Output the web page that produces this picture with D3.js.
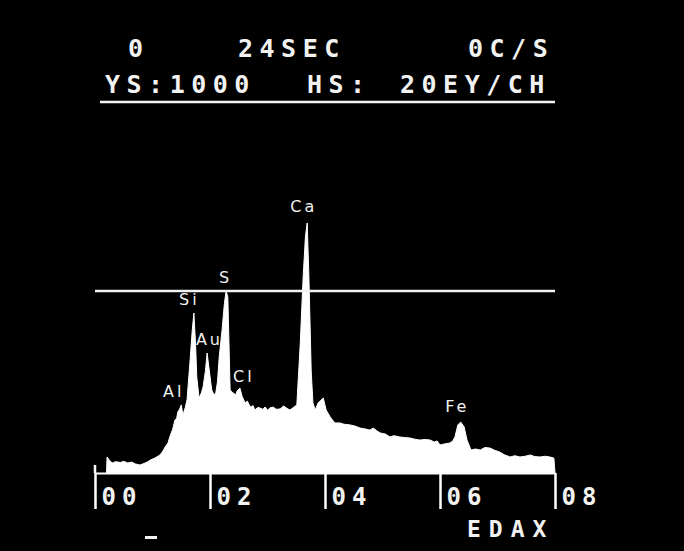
<!DOCTYPE html>
<html>
<head>
<meta charset="utf-8">
<script src="https://cdn.jsdelivr.net/npm/d3@7"></script>
<style>
  body { margin: 0; background: #000; }
  svg { display: block; }
  .mono { font-family: "DejaVu Sans Mono", monospace; font-weight: bold; fill: #f2f2f2; }
  .elem { font-family: "DejaVu Sans", sans-serif; fill: #f2f2f2; }
</style>
</head>
<body>
<div id="edax"></div>
<script>
/*
*   EDAX spectrum (energy in keV vs counts)
*/

// spectrum
const energy = [0.20,0.21,0.25,0.30,0.36,0.44,0.50,0.57,0.64,0.70,0.78,0.85,0.92,0.96,1.04,1.13,1.18,1.22,1.27,1.30,
  1.35,1.39,1.42,1.44,1.47,1.50,1.53,1.57,1.60,1.65,1.69,1.72,1.75,1.77,1.81,1.85,1.88,1.92,1.95,1.98,
  2.03,2.07,2.10,2.13,2.16,2.21,2.25,2.28,2.31,2.33,2.35,2.40,2.45,2.47,2.52,2.56,2.61,2.65,2.70,2.75,
  2.78,2.83,2.87,2.92,2.96,3.00,3.04,3.10,3.15,3.22,3.28,3.34,3.39,3.45,3.51,3.55,3.57,3.62,3.66,3.69,
  3.72,3.76,3.79,3.83,3.88,3.93,3.97,4.02,4.09,4.17,4.26,4.33,4.44,4.52,4.61,4.70,4.78,4.84,4.90,4.96,
  5.05,5.13,5.20,5.30,5.38,5.48,5.56,5.65,5.74,5.83,5.90,5.95,6.00,6.08,6.17,6.22,6.26,6.31,6.36,6.42,
  6.47,6.54,6.62,6.70,6.78,6.87,6.95,7.04,7.12,7.22,7.30,7.39,7.48,7.57,7.65,7.74,7.83,7.91,7.98,8.00]
const counts = [0,88,70,55,62,58,64,55,60,50,44,52,62,71,82,99,120,143,165,198,
  240,291,300,335,350,374,319,360,401,604,780,879,700,527,412,440,473,560,659,582,
  456,430,440,500,637,786,930,1000,967,714,456,440,430,450,467,420,385,395,363,370,
  346,360,357,350,363,345,357,362,350,352,368,355,346,360,374,600,714,1077,1300,1374,
  1077,560,385,346,385,400,412,346,308,275,275,268,264,258,247,242,236,247,232,220,
  214,198,205,198,195,192,186,181,184,181,170,176,154,160,165,175,198,264,280,253,
  181,126,132,126,140,137,125,115,100,88,95,88,92,99,90,88,92,88,82,0]

// element labels: name, energy, count level of the label baseline
const elemNames  = ["Al", "Si", "Au", "S", "Cl", "Ca", "Fe"]
const elemEnergy = [1.37, 1.64, 1.99, 2.27, 2.59, 3.63, 6.30]
const elemLevel  = [418, 923, 703, 1044, 500, 1434, 335]

const tickVals = [0, 2, 4, 6, 8]
const headLine1 = [["0", 128], ["24SEC", 238], ["0C/S", 468]]
const headLine2 = [["YS:1000", 105], ["HS:", 307], ["20EY/CH", 400]]

const WD = 684, HT = 551
const margin = { left: 95, right: 129, top: 291, bottom: 78 }
const width = WD - margin.left - margin.right
const height = HT - margin.top - margin.bottom

var svg = d3.select("#edax")
            .append("svg")
                .attr("width", WD)
                .attr("height", HT)

svg.append("rect").attr("width", WD).attr("height", HT).attr("fill", "#000")

const xs = d3.scaleLinear().domain([0, 8]).range([0, width])
const ys = d3.scaleLinear().domain([0, 1000]).range([height, 0])

var g = svg.append("g")
            .attr("transform", "translate(" + margin.left + "," + margin.top + ")")

// spectrum
const pts = energy.map((e, i) => [e, counts[i]])
const area = d3.area()
    .x(d => xs(d[0]))
    .y0(ys(0))
    .y1(d => ys(d[1]))

g.append("path")
    .datum(pts)
    .attr("d", area)
    .attr("fill", "#fff")
    .attr("stroke", "#fff")
    .attr("stroke-width", 1)

// horizontal marker line (VS level)
g.append("line")
    .attr("x1", xs(0)).attr("x2", xs(8))
    .attr("y1", ys(1000)).attr("y2", ys(1000))
    .attr("stroke", "#f2f2f2")
    .attr("stroke-width", 2.5)

// energy axis
var ax = g.append("g")
    .attr("transform", "translate(0," + ys(0) + ")")
    .call(d3.axisBottom(xs).tickValues(tickVals).tickSize(36).tickSizeOuter(0)
            .tickFormat(d => "0" + d))

ax.select(".domain").attr("stroke", "#fff").attr("stroke-width", 2)
ax.selectAll(".tick line").attr("stroke", "#fff").attr("stroke-width", 2.5)
ax.selectAll(".tick text")
    .attr("class", "mono")
    .attr("text-anchor", "start")
    .attr("x", 6)
    .attr("y", 32)
    .attr("dy", 0)
    .attr("font-size", "24px")
    .attr("letter-spacing", "6px")

// small extension of the 00 tick above baseline
g.append("line")
    .attr("x1", xs(0)).attr("x2", xs(0))
    .attr("y1", ys(0) - 8).attr("y2", ys(0))
    .attr("stroke", "#fff").attr("stroke-width", 2.5)

// element labels
g.selectAll(".elem")
    .data(elemNames)
    .enter()
    .append("text")
        .attr("class", "elem")
        .attr("x", (d, i) => xs(elemEnergy[i]))
        .attr("y", (d, i) => ys(elemLevel[i]))
        .attr("text-anchor", "middle")
        .attr("font-size", "16px")
        .attr("letter-spacing", "3px")
        .text(d => d)

// header
function header(items, y) {
    svg.selectAll(null)
        .data(items)
        .enter()
        .append("text")
            .attr("class", "mono")
            .attr("x", d => d[1])
            .attr("y", y)
            .attr("font-size", "25px")
            .attr("letter-spacing", "6.5px")
            .text(d => d[0])
}
header(headLine1, 57)
header(headLine2, 93)

svg.append("line")
    .attr("x1", 100).attr("x2", 555)
    .attr("y1", 102).attr("y2", 102)
    .attr("stroke", "#f2f2f2").attr("stroke-width", 2.5)

// footer
svg.append("text")
    .attr("class", "mono")
    .attr("x", 467).attr("y", 537)
    .attr("font-size", "23px")
    .attr("letter-spacing", "8px")
    .text("EDAX")

svg.append("rect")
    .attr("x", 145).attr("y", 536)
    .attr("width", 12).attr("height", 3)
    .attr("fill", "#f2f2f2")
</script>
</body>
</html>
